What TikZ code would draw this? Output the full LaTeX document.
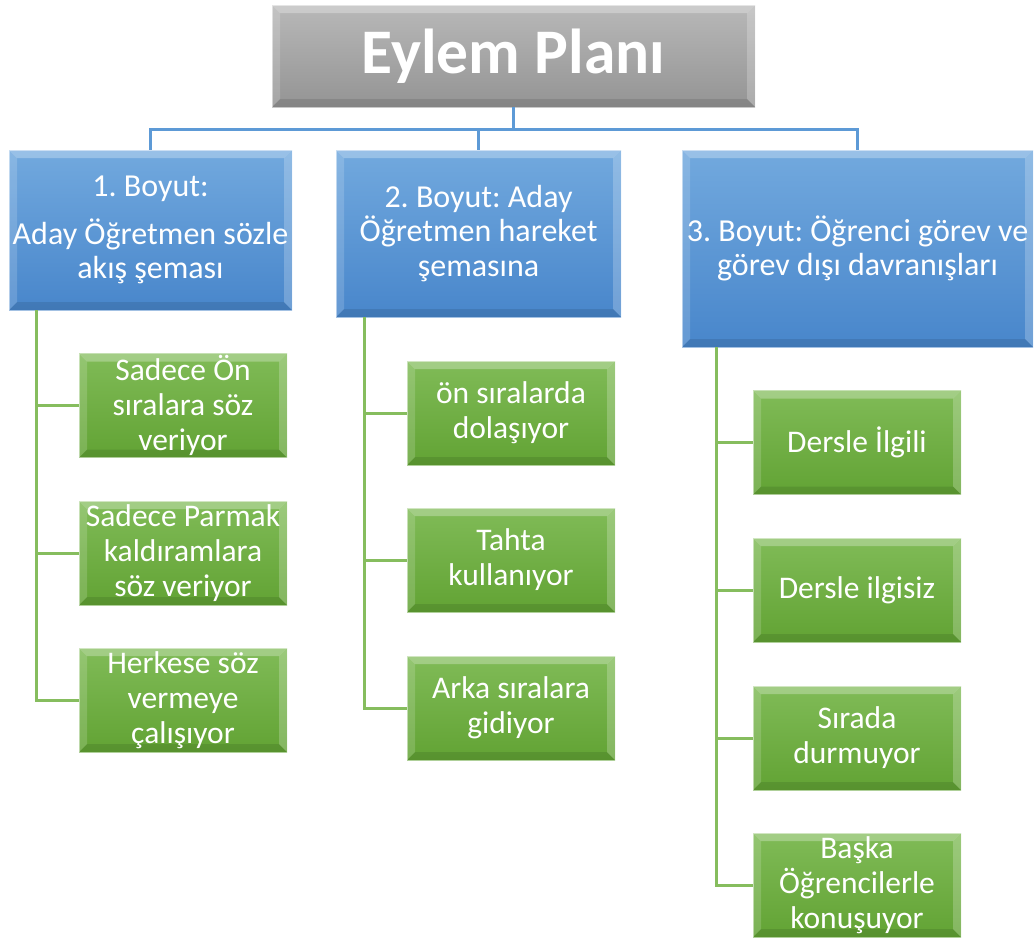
\documentclass[tikz,border=0pt]{standalone}
\usepackage{fontspec}
\setmainfont{Carlito}
\frenchspacing
\definecolor{bluetop}{HTML}{72A9DE}
\definecolor{bluebot}{HTML}{4886CB}
\definecolor{greentop}{HTML}{80BB57}
\definecolor{greenbot}{HTML}{62A334}
\definecolor{graytop}{HTML}{B8B8B8}
\definecolor{graybot}{HTML}{949494}
\definecolor{blueline}{HTML}{5D9AD6}
\definecolor{greenline}{HTML}{86BD5E}
\tikzset{
  bevel/.style={path picture={
    \fill[white,opacity=0.28] (path picture bounding box.north west) -- (path picture bounding box.north east)
      -- ([xshift=-8pt,yshift=-8pt]path picture bounding box.north east) -- ([xshift=8pt,yshift=-8pt]path picture bounding box.north west) -- cycle;
    \fill[white,opacity=0.16] (path picture bounding box.north west) -- ([xshift=8pt,yshift=-8pt]path picture bounding box.north west)
      -- ([xshift=8pt,yshift=8pt]path picture bounding box.south west) -- (path picture bounding box.south west) -- cycle;
    \fill[white,opacity=0.22] (path picture bounding box.north east) -- ([xshift=-8pt,yshift=-8pt]path picture bounding box.north east)
      -- ([xshift=-8pt,yshift=8pt]path picture bounding box.south east) -- (path picture bounding box.south east) -- cycle;
    \fill[black,opacity=0.10] (path picture bounding box.south west) -- ([xshift=8pt,yshift=8pt]path picture bounding box.south west)
      -- ([xshift=-8pt,yshift=8pt]path picture bounding box.south east) -- (path picture bounding box.south east) -- cycle;
  }},
  basebox/.style={rectangle, inner sep=0pt, align=center, text=white, bevel, draw=white, draw opacity=0.5, line width=0.8pt},
  titlebox/.style={basebox, top color=graytop, bottom color=graybot, font=\fontsize{63.5}{72}\selectfont\bfseries},
  dimbox/.style={basebox, top color=bluetop, bottom color=bluebot, font=\fontsize{32}{34.5}\selectfont},
  itembox/.style={basebox, top color=greentop, bottom color=greenbot, minimum width=208pt, minimum height=104pt, font=\fontsize{31.5}{35}\selectfont},
  bluecon/.style={draw=blueline, line width=3pt},
  greencon/.style={draw=greenline, line width=3pt},
}
\begin{document}
\begin{tikzpicture}[x=1pt,y=-1pt]
\useasboundingbox (0,0) rectangle (1034,943);
\coordinate (bus) at (0,129);
\coordinate (s1) at (36,0);
\coordinate (s2) at (364,0);
\coordinate (s3) at (716,0);

\node[titlebox, minimum width=483pt, minimum height=102pt] (top) at (513.5,56) {Eylem Planı};

\node[dimbox, minimum width=283pt, minimum height=160pt] (b1) at (150.5,230) {1. Boyut:\\[13pt]Aday Öğretmen sözle\\akış şeması};
\node[dimbox, minimum width=285pt, minimum height=167pt] (b2) at (478.5,233.5) {2. Boyut: Aday\\Öğretmen hareket\\şemasına};
\node[dimbox, minimum width=351pt, minimum height=197pt] (b3) at (857.5,248.5) {3. Boyut: Öğrenci görev ve\\görev dışı davranışları};

\node[itembox] (g11) at (183,405.5) {Sadece Ön\\sıralara söz\\veriyor};
\node[itembox] (g12) at (183,553) {Sadece Parmak\\kaldıramlara\\söz veriyor};
\node[itembox] (g13) at (183,700) {Herkese söz\\vermeye\\çalışıyor};

\node[itembox] (g21) at (511,413) {ön sıralarda\\dolaşıyor};
\node[itembox] (g22) at (511,560) {Tahta\\kullanıyor};
\node[itembox] (g23) at (511,708) {Arka sıralara\\gidiyor};

\node[itembox] (g31) at (857,442.5) {Dersle İlgili};
\node[itembox] (g32) at (857,590) {Dersle ilgisiz};
\node[itembox] (g33) at (857,738) {Sırada\\durmuyor};
\node[itembox] (g34) at (857,885) {Başka\\Öğrencilerle\\konuşuyor};

\draw[bluecon] (top.south) -- (top.south |- bus);
\draw[bluecon] (b1.north) -- (b1.north |- bus) -- (b3.north |- bus) -- (b3.north);
\draw[bluecon] (b2.north) -- (b2.north |- bus);

\draw[greencon] (s1 |- b1.south) |- (g11.west);
\draw[greencon] (s1 |- b1.south) |- (g12.west);
\draw[greencon] (s1 |- b1.south) |- (g13.west);

\draw[greencon] (s2 |- b2.south) |- (g21.west);
\draw[greencon] (s2 |- b2.south) |- (g22.west);
\draw[greencon] (s2 |- b2.south) |- (g23.west);

\draw[greencon] (s3 |- b3.south) |- (g31.west);
\draw[greencon] (s3 |- b3.south) |- (g32.west);
\draw[greencon] (s3 |- b3.south) |- (g33.west);
\draw[greencon] (s3 |- b3.south) |- (g34.west);
\end{tikzpicture}
\end{document}
